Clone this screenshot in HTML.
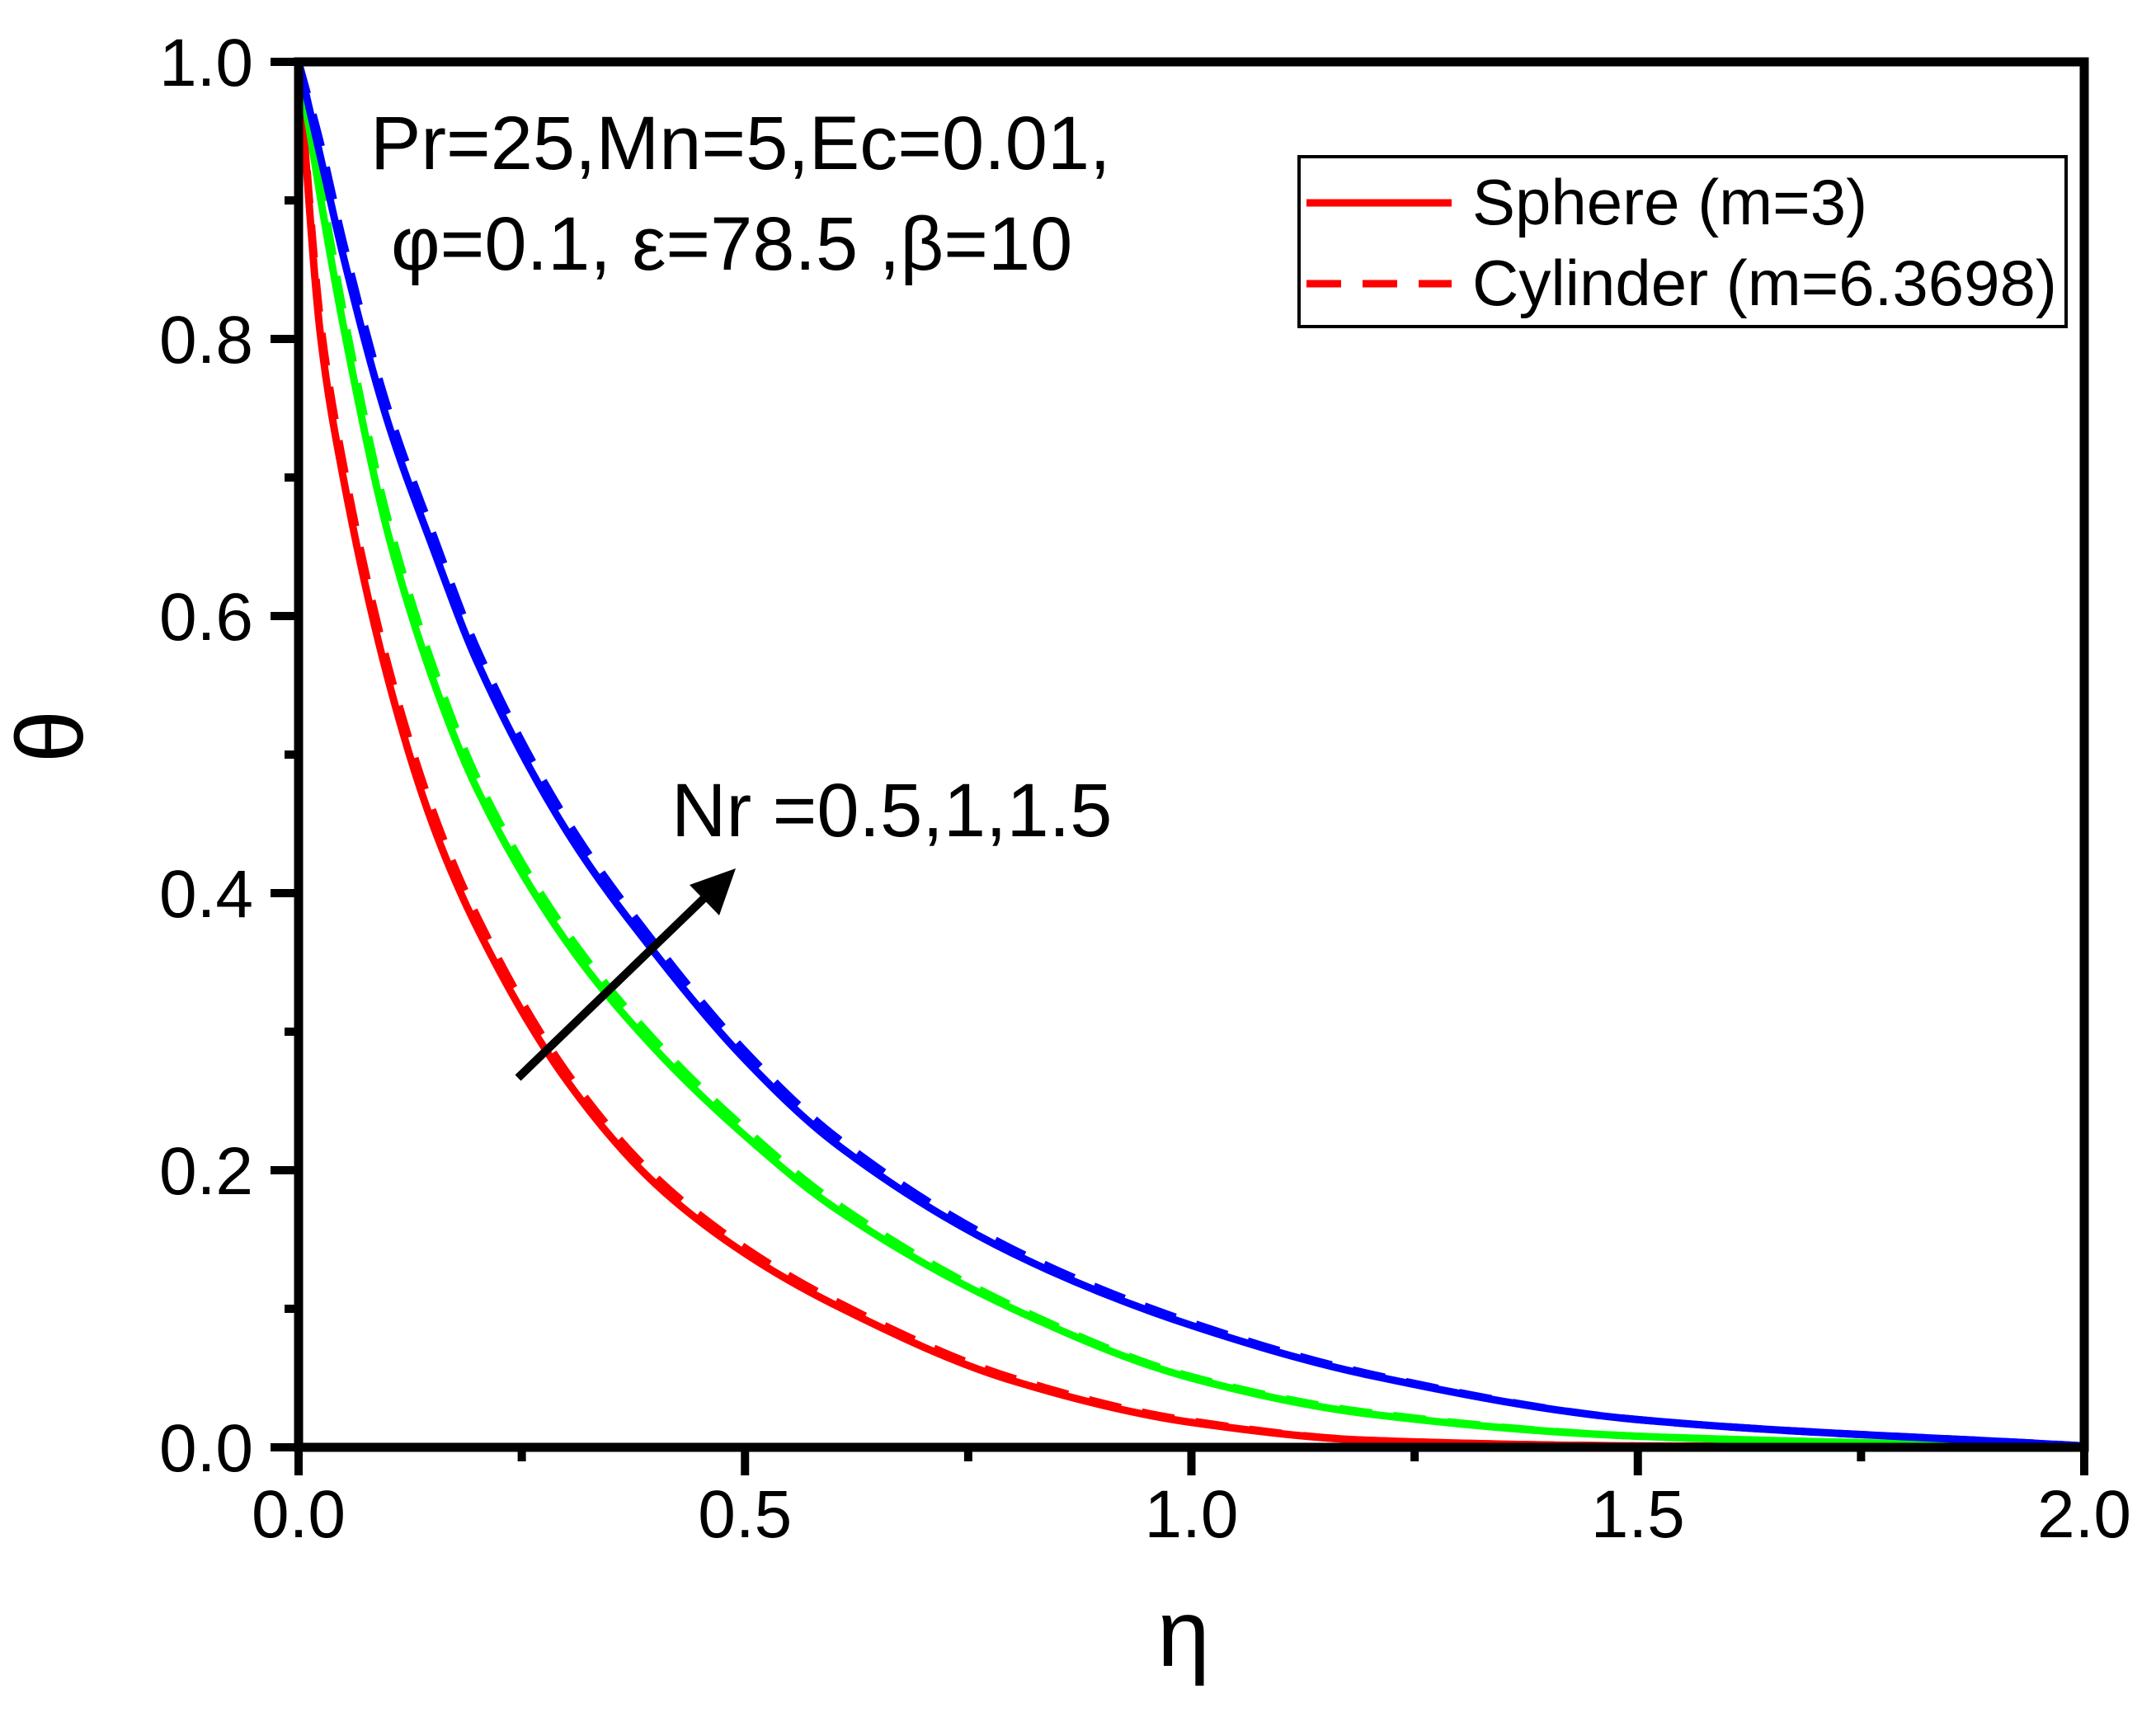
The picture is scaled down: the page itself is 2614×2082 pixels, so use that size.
<!DOCTYPE html>
<html><head><meta charset="utf-8"><style>
html,body{margin:0;padding:0;background:#fff;}
svg{display:block;font-family:"Liberation Sans","DejaVu Sans",sans-serif;}
</style></head><body>
<svg id="chart" width="2614" height="2082" viewBox="0 0 2614 2082" xmlns="http://www.w3.org/2000/svg">
<rect width="2614" height="2082" fill="#fff"/>
<g id="ticks"></g>
<g id="curves"></g>
<rect x="362" y="75" width="2165" height="1680" fill="none" stroke="#000" stroke-width="11"/>
<g id="labels"></g>
<text x="0" y="0" font-size="115" text-anchor="middle" transform="translate(100,893) rotate(-90)">θ</text>
<text x="1435" y="2020" font-size="115" text-anchor="middle">η</text>
<text x="449" y="205" font-size="92">Pr=25,Mn=5,Ec=0.01,</text>
<text x="474" y="327" font-size="92">φ=0.1, ε=78.5 ,β=10</text>
<text x="814" y="1014" font-size="92">Nr =0.5,1,1.5</text>
<g>
<line x1="628" y1="1307" x2="860" y2="1083" stroke="#000" stroke-width="10"/>
<polygon points="892,1053 872,1110 836,1073" fill="#000"/>
</g>
<g>
<rect x="1575" y="190" width="930" height="206" fill="#fff" stroke="#000" stroke-width="4"/>
<line x1="1584" y1="246" x2="1760" y2="246" stroke="#ff0000" stroke-width="9"/>
<text x="1785" y="272" font-size="78">Sphere (m=3)</text>
<line x1="1584" y1="344" x2="1760" y2="344" stroke="#ff0000" stroke-width="9" stroke-dasharray="42,26"/>
<text x="1785" y="370" font-size="78">Cylinder (m=6.3698)</text>
</g>
</svg>
<script>
const etaValues = [0,0.025,0.05,0.1,0.15,0.2,0.3,0.4,0.5,0.6,0.8,1.0,1.2,1.5,2.0];
const sphereNr05 = [1,0.80,0.70,0.555,0.45,0.375,0.265,0.19,0.14,0.103,0.048,0.018,0.005,0.001,0];
const sphereNr1 = [1,0.90,0.81,0.66,0.555,0.475,0.365,0.287,0.225,0.173,0.10,0.05,0.024,0.008,0];
const sphereNr15 = [1,0.93,0.86,0.74,0.65,0.567,0.445,0.356,0.28,0.22,0.14,0.088,0.052,0.02,0.001];
const cylinderNr05 = [1,0.81,0.71,0.565,0.46,0.383,0.271,0.195,0.144,0.106,0.05,0.019,0.005,0.001,0];
const cylinderNr1 = [1,0.91,0.82,0.67,0.565,0.483,0.372,0.293,0.23,0.177,0.102,0.051,0.025,0.008,0];
const cylinderNr15 = [1,0.94,0.87,0.75,0.66,0.576,0.453,0.363,0.286,0.225,0.143,0.09,0.053,0.02,0.001];
const xTickLabels = ["0.0","0.5","1.0","1.5","2.0"];
const yTickLabels = ["0.0","0.2","0.4","0.6","0.8","1.0"];

const NS="http://www.w3.org/2000/svg";
const X0=362,X1=2527,Y0=1755,Y1=75;
function xs(v){return X0+(v-0)/(2-0)*(X1-X0);}
function ys(v){return Y0-(v-0)/(1-0)*(Y0-Y1);}
function mk(tag,attrs,parent){const e=document.createElementNS(NS,tag);for(const k in attrs)e.setAttribute(k,attrs[k]);parent.appendChild(e);return e;}

const ticks=document.getElementById('ticks');
const labels=document.getElementById('labels');
for(let i=0;i<=8;i++){
  const v=i*0.25, x=xs(v), major=i%2===0;
  const t=mk('line',{x1:x,y1:Y0,x2:x,y2:Y0+(major?34:17),stroke:'#000','stroke-width':10},ticks);
  
  
}
xTickLabels.forEach((s,i)=>{
  const t=mk('text',{x:xs(parseFloat(s)),y:1864,'font-size':82,'text-anchor':'middle'},labels);
  t.textContent=s;
  
  
});
for(let i=0;i<=10;i++){
  const v=i*0.1, y=ys(v), major=i%2===0;
  const t=mk('line',{x1:X0,y1:y,x2:X0-(major?34:17),y2:y,stroke:'#000','stroke-width':10},ticks);
  
  
}
yTickLabels.forEach((s)=>{
  const t=mk('text',{x:307,y:ys(parseFloat(s))+29,'font-size':82,'text-anchor':'end'},labels);
  t.textContent=s;
  
  
});

// monotone cubic (Fritsch-Carlson) in data space, converted to Bezier
function pathFor(vals){
  const x=etaValues, y=vals, n=x.length;
  const d=[], m=new Array(n);
  for(let i=0;i<n-1;i++) d.push((y[i+1]-y[i])/(x[i+1]-x[i]));
  m[0]=d[0]; m[n-1]=d[n-2];
  for(let i=1;i<n-1;i++){
    if(d[i-1]*d[i]<=0){m[i]=0;continue;}
    const h0=x[i]-x[i-1], h1=x[i+1]-x[i];
    const w1=2*h1+h0, w2=h1+2*h0;
    m[i]=(w1+w2)/(w1/d[i-1]+w2/d[i]);
  }
  let s='M'+xs(x[0])+','+ys(y[0]);
  for(let i=0;i<n-1;i++){
    const h=x[i+1]-x[i];
    const c1x=x[i]+h/3, c1y=y[i]+m[i]*h/3;
    const c2x=x[i+1]-h/3, c2y=y[i+1]-m[i+1]*h/3;
    s+=' C'+xs(c1x)+','+ys(c1y)+' '+xs(c2x)+','+ys(c2y)+' '+xs(x[i+1])+','+ys(y[i+1]);
  }
  return s;
}
const curves=document.getElementById('curves');
const series=[
  [cylinderNr05,'#ff0000',true,'cylinder-nr-0.5'],
  [cylinderNr1,'#00ff00',true,'cylinder-nr-1'],
  [cylinderNr15,'#0000ff',true,'cylinder-nr-1.5'],
  [sphereNr05,'#ff0000',false,'sphere-nr-0.5'],
  [sphereNr1,'#00ff00',false,'sphere-nr-1'],
  [sphereNr15,'#0000ff',false,'sphere-nr-1.5']
];
series.forEach(s=>{
  const el=mk('path',{d:pathFor(s[0]),fill:'none',stroke:s[1],'stroke-width':9},curves);
  if(s[2])el.setAttribute('stroke-dasharray','40,26');
  
  
});
</script>
</body></html>
